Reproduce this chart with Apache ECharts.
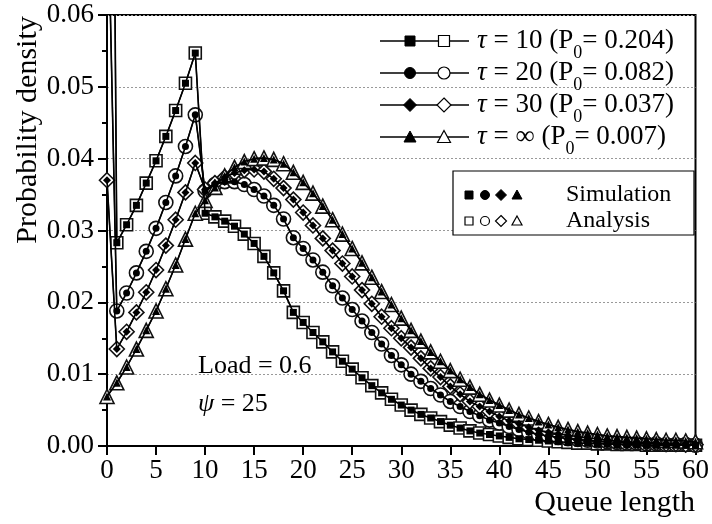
<!DOCTYPE html>
<html>
<head>
<meta charset="utf-8">
<script src="https://cdn.jsdelivr.net/npm/echarts@6/dist/echarts.min.js"></script>
<style>
  html, body { margin: 0; padding: 0; background: #fff; }
  #chart { width: 712px; height: 524px; }
</style>
</head>
<body>
<div id="chart"></div>
<script>
// queue length 0..60, probability density
const queueLen = Array.from({ length: 61 }, (_, i) => i);

const tau10 = [0.204, 0.0283, 0.0308, 0.0335, 0.0366, 0.0397, 0.0431, 0.0467, 0.0505, 0.0547,
  0.0324, 0.0319, 0.0313, 0.0306, 0.0295, 0.0282, 0.0264, 0.0241, 0.0216, 0.0186,
  0.0172, 0.0158, 0.0145, 0.0131, 0.0118, 0.0107, 0.0095, 0.0084, 0.0074, 0.0065,
  0.0057, 0.0050, 0.0044, 0.0039, 0.0034, 0.0029, 0.0025, 0.0021, 0.0018, 0.0016,
  0.0014, 0.0012, 0.0010, 0.0009, 0.0008, 0.0007, 0.0006, 0.0005, 0.0004, 0.0004,
  0.0003, 0.0003, 0.0002, 0.0002, 0.0002, 0.0001, 0.0001, 0.0001, 0.0001, 0.0001, 0.0001];

const tau20 = [0.082, 0.0188, 0.0213, 0.0241, 0.0271, 0.0303, 0.0339, 0.0376, 0.0417, 0.0461,
  0.0355, 0.0364, 0.0368, 0.0368, 0.0364, 0.0357, 0.0348, 0.0335, 0.0316, 0.0290,
  0.0275, 0.0259, 0.0242, 0.0223, 0.0206, 0.0190, 0.0174, 0.0158, 0.0142, 0.0126,
  0.0113, 0.0100, 0.0090, 0.0080, 0.0071, 0.0062, 0.0055, 0.0048, 0.0042, 0.0036,
  0.0032, 0.0027, 0.0023, 0.0019, 0.0016, 0.0014, 0.0012, 0.0010, 0.0009, 0.0008,
  0.0007, 0.0006, 0.0005, 0.0004, 0.0004, 0.0003, 0.0003, 0.0002, 0.0002, 0.0002, 0.0001];

const tau30 = [0.037, 0.0135, 0.0159, 0.0186, 0.0214, 0.0245, 0.0279, 0.0315, 0.0353, 0.0394,
  0.0357, 0.0366, 0.0374, 0.0380, 0.0384, 0.0385, 0.0382, 0.0372, 0.0359, 0.0343,
  0.0325, 0.0307, 0.0289, 0.0272, 0.0254, 0.0236, 0.0217, 0.0198, 0.0180, 0.0164,
  0.0150, 0.0137, 0.0122, 0.0108, 0.0096, 0.0083, 0.0072, 0.0062, 0.0055, 0.0048,
  0.0041, 0.0035, 0.0031, 0.0026, 0.0022, 0.0019, 0.0017, 0.0015, 0.0013, 0.0011,
  0.0010, 0.0008, 0.0007, 0.0006, 0.0005, 0.0005, 0.0004, 0.0003, 0.0003, 0.0002, 0.0002];

const tauInf = [0.0069, 0.0088, 0.0110, 0.0135, 0.0161, 0.0188, 0.0219, 0.0252, 0.0288, 0.0324,
  0.0342, 0.0360, 0.0376, 0.0388, 0.0396, 0.0400, 0.0401, 0.0399, 0.0393, 0.0381,
  0.0367, 0.0352, 0.0334, 0.0315, 0.0295, 0.0275, 0.0255, 0.0235, 0.0215, 0.0197,
  0.0178, 0.0161, 0.0146, 0.0131, 0.0118, 0.0105, 0.0093, 0.0082, 0.0072, 0.0064,
  0.0057, 0.0050, 0.0044, 0.0039, 0.0034, 0.0030, 0.0026, 0.0023, 0.0020, 0.0018,
  0.0016, 0.0014, 0.0013, 0.0012, 0.0011, 0.0010, 0.0009, 0.0008, 0.0008, 0.0007, 0.0006];

const tauLabels = ["10", "20", "30", "\u221e"];
const p0Labels = ["0.204", "0.082", "0.037", "0.007"];
const symbols = ["rect", "circle", "diamond", "triangle"];
const curves = [tau10, tau20, tau30, tauInf];

const FONT = "'Liberation Serif', 'Times New Roman', serif";
const openSize = { rect: 12, circle: 14, diamond: 15, triangle: 14 };
const fillSize = { rect: 7, circle: 7, diamond: 8, triangle: 8 };

const pairs = (arr) => arr.map((v, i) => [queueLen[i], v]);

const series = [];
curves.forEach((arr, k) => {
  // analysis: open markers
  series.push({
    name: "Analysis " + tauLabels[k],
    type: "line",
    data: pairs(arr),
    symbol: symbols[k],
    symbolSize: openSize[symbols[k]],
    showSymbol: true,
    clip: true,
    lineStyle: { color: "#000", width: 1.3 },
    itemStyle: { color: "#fff", borderColor: "#111", borderWidth: 1.6 },
    z: 2,
  });
  // simulation: filled markers
  series.push({
    name: "Simulation " + tauLabels[k],
    type: "line",
    data: pairs(arr),
    symbol: symbols[k],
    symbolSize: fillSize[symbols[k]],
    showSymbol: true,
    clip: true,
    lineStyle: { color: "#000", width: 1.6 },
    itemStyle: { color: "#000" },
    z: 3,
  });
});

// hand-drawn legend
const legendRows = [41, 73, 105, 137];
const graphic = [];
const markerShape = (kind, cx, cy, r, filled) => {
  const style = filled
    ? { fill: "#000", stroke: "#000", lineWidth: 1 }
    : { fill: "#fff", stroke: "#000", lineWidth: 1.2 };
  if (kind === "rect") return { type: "rect", shape: { x: cx - r, y: cy - r, width: 2 * r, height: 2 * r }, style, z: 101 };
  if (kind === "circle") return { type: "circle", shape: { cx, cy, r: r + 0.5 }, style, z: 101 };
  if (kind === "diamond") return { type: "polygon", shape: { points: [[cx, cy - r - 1.5], [cx + r + 1.5, cy], [cx, cy + r + 1.5], [cx - r - 1.5, cy]] }, style, z: 101 };
  return { type: "polygon", shape: { points: [[cx, cy - r - 1], [cx + r + 1, cy + r], [cx - r - 1, cy + r]] }, style, z: 101 };
};
legendRows.forEach((y, k) => {
  graphic.push({ type: "line", shape: { x1: 380, y1: y, x2: 469, y2: y }, style: { stroke: "#000", lineWidth: 1.5 }, z: 100 });
  graphic.push(markerShape(symbols[k], 410, y, 5, true));
  graphic.push(markerShape(symbols[k], 444, y, 5.5, false));
  graphic.push({
    type: "text", x: 477, y: y, z: 101,
    style: {
      text: "{it|\u03c4}{r| = " + tauLabels[k] + " (P}{sub|0}{r|= " + p0Labels[k] + ")}",
      verticalAlign: "middle", align: "left", fill: "#000",
      font: "26px " + FONT,
      rich: {
        it: { fontFamily: FONT, fontSize: 27, fontStyle: "italic", fill: "#000" },
        r: { fontFamily: FONT, fontSize: 27, fill: "#000" },
        sub: { fontFamily: FONT, fontSize: 18, fill: "#000", padding: [24, 0, 0, 0] },
      },
    },
  });
});

// Simulation / Analysis box
graphic.push({ type: "rect", shape: { x: 453, y: 171, width: 241, height: 64 }, style: { fill: "#fff", stroke: "#000", lineWidth: 1.2 }, z: 100 });
const keyX = [469, 485, 501, 517];
symbols.forEach((s, k) => {
  graphic.push(markerShape(s, keyX[k], 195, 4, true));
  graphic.push(markerShape(s, keyX[k], 221, 4, false));
});
graphic.push({ type: "text", x: 566, y: 195, z: 101, style: { text: "Simulation", font: "24px " + FONT, fill: "#000", verticalAlign: "middle" } });
graphic.push({ type: "text", x: 566, y: 221, z: 101, style: { text: "Analysis", font: "24px " + FONT, fill: "#000", verticalAlign: "middle" } });

// annotations
graphic.push({ type: "text", x: 198, y: 366, z: 101, style: { text: "Load = 0.6", font: "26px " + FONT, fill: "#000", verticalAlign: "middle" } });
graphic.push({
  type: "text", x: 198, y: 404, z: 101,
  style: {
    text: "{it|\u03c8}{r| = 25}", verticalAlign: "middle", font: "26px " + FONT, fill: "#000",
    rich: {
      it: { fontFamily: FONT, fontSize: 26, fontStyle: "italic", fill: "#000" },
      r: { fontFamily: FONT, fontSize: 26, fill: "#000" },
    },
  },
});

// axis names
graphic.push({ type: "text", x: 695, y: 503, z: 101, style: { text: "Queue length", font: "30px " + FONT, fill: "#000", align: "right", verticalAlign: "middle" } });
graphic.push({ type: "text", x: 28, y: 130, rotation: Math.PI / 2, z: 101, style: { text: "Probability density", font: "30px " + FONT, fill: "#000", align: "center", verticalAlign: "middle" } });

const chart = echarts.init(document.getElementById("chart"), null, { renderer: "canvas" });
chart.setOption({
  animation: false,
  backgroundColor: "#fff",
  grid: { left: 107, right: 15, top: 15, bottom: 78, show: true, borderColor: "#000", borderWidth: 2, backgroundColor: "transparent" },
  xAxis: {
    type: "value", min: 0, max: 60, interval: 5,
    axisLine: { onZero: false, lineStyle: { color: "#000", width: 2 } },
    axisTick: { inside: false, length: 9, lineStyle: { color: "#000", width: 2 } },
    axisLabel: { color: "#000", fontFamily: FONT, fontSize: 27, margin: 11 },
    splitLine: { show: false },
  },
  yAxis: {
    type: "value", min: 0, max: 0.06, interval: 0.01,
    axisLine: { show: true, lineStyle: { color: "#000", width: 2 } },
    axisTick: { show: true, inside: false, length: 9, lineStyle: { color: "#000", width: 2 } },
    minorTick: { show: true, splitNumber: 2, length: 5, lineStyle: { color: "#000", width: 2 } },
    axisLabel: { color: "#000", fontFamily: FONT, fontSize: 27, margin: 13, formatter: (v) => v.toFixed(2) },
    splitLine: { show: true, lineStyle: { color: "#999", width: 1, type: [2, 2] } },
  },
  series,
  graphic,
});
</script>
</body>
</html>
